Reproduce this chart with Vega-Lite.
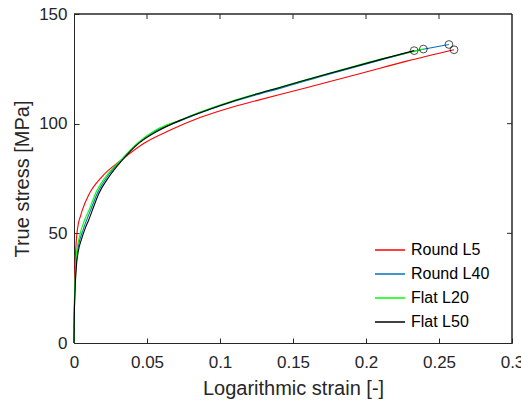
{
  "$schema": "https://vega.github.io/schema/vega-lite/v6.json",
  "width": 438,
  "height": 329,
  "autosize": "none",
  "padding": {"left": 74, "top": 14, "right": 9, "bottom": 60},
  "background": "white",
  "config": {
    "view": {"stroke": null},
    "font": "Liberation Sans",
    "axis": {
      "grid": false,
      "domainColor": "#262626",
      "tickColor": "#262626",
      "labelColor": "#262626",
      "titleColor": "#262626",
      "labelFont": "Liberation Sans",
      "titleFont": "Liberation Sans",
      "labelFontSize": 17,
      "titleFontSize": 20,
      "titleFontWeight": "normal",
      "tickSize": -5,
      "domainWidth": 1,
      "tickWidth": 1
    }
  },
  "datasets": {
    "curves": [
      {"series": "Round L5", "strain": 0, "stress": 0},
      {"series": "Round L5", "strain": 0.0002, "stress": 15},
      {"series": "Round L5", "strain": 0.0005, "stress": 28},
      {"series": "Round L5", "strain": 0.001, "stress": 40},
      {"series": "Round L5", "strain": 0.0015, "stress": 46},
      {"series": "Round L5", "strain": 0.002, "stress": 50},
      {"series": "Round L5", "strain": 0.003, "stress": 54.5},
      {"series": "Round L5", "strain": 0.0045, "stress": 58},
      {"series": "Round L5", "strain": 0.0057, "stress": 60.6},
      {"series": "Round L5", "strain": 0.0103, "stress": 67.8},
      {"series": "Round L5", "strain": 0.0194, "stress": 76},
      {"series": "Round L5", "strain": 0.0331, "stress": 83.8},
      {"series": "Round L5", "strain": 0.048, "stress": 91.1},
      {"series": "Round L5", "strain": 0.066, "stress": 97.1},
      {"series": "Round L5", "strain": 0.0863, "stress": 102.8},
      {"series": "Round L5", "strain": 0.107, "stress": 107.3},
      {"series": "Round L5", "strain": 0.125, "stress": 110.5},
      {"series": "Round L5", "strain": 0.141, "stress": 113.3},
      {"series": "Round L5", "strain": 0.1753, "stress": 119.2},
      {"series": "Round L5", "strain": 0.2096, "stress": 125.3},
      {"series": "Round L5", "strain": 0.2279, "stress": 128.5},
      {"series": "Round L5", "strain": 0.2603, "stress": 133.7},
      {"series": "Round L40", "strain": 0, "stress": 0},
      {"series": "Round L40", "strain": 0.0002, "stress": 12.5},
      {"series": "Round L40", "strain": 0.0005, "stress": 21.5},
      {"series": "Round L40", "strain": 0.001, "stress": 30.5},
      {"series": "Round L40", "strain": 0.0016, "stress": 37},
      {"series": "Round L40", "strain": 0.003, "stress": 44},
      {"series": "Round L40", "strain": 0.0062, "stress": 51.5},
      {"series": "Round L40", "strain": 0.0114, "stress": 60.6},
      {"series": "Round L40", "strain": 0.016, "stress": 68.3},
      {"series": "Round L40", "strain": 0.0228, "stress": 75.8},
      {"series": "Round L40", "strain": 0.0325, "stress": 83.4},
      {"series": "Round L40", "strain": 0.044, "stress": 91.1},
      {"series": "Round L40", "strain": 0.0565, "stress": 96.9},
      {"series": "Round L40", "strain": 0.0726, "stress": 101.2},
      {"series": "Round L40", "strain": 0.0863, "stress": 104.9},
      {"series": "Round L40", "strain": 0.1068, "stress": 109.6},
      {"series": "Round L40", "strain": 0.125, "stress": 113.2},
      {"series": "Round L40", "strain": 0.141, "stress": 116.1},
      {"series": "Round L40", "strain": 0.1753, "stress": 122.7},
      {"series": "Round L40", "strain": 0.2096, "stress": 128.9},
      {"series": "Round L40", "strain": 0.233, "stress": 133},
      {"series": "Round L40", "strain": 0.2568, "stress": 136.1},
      {"series": "Flat L20", "strain": 0, "stress": 0},
      {"series": "Flat L20", "strain": 0.0002, "stress": 13},
      {"series": "Flat L20", "strain": 0.0005, "stress": 23},
      {"series": "Flat L20", "strain": 0.001, "stress": 33},
      {"series": "Flat L20", "strain": 0.0016, "stress": 40},
      {"series": "Flat L20", "strain": 0.0039, "stress": 49},
      {"series": "Flat L20", "strain": 0.0068, "stress": 55.3},
      {"series": "Flat L20", "strain": 0.0103, "stress": 60.6},
      {"series": "Flat L20", "strain": 0.0148, "stress": 68.3},
      {"series": "Flat L20", "strain": 0.0217, "stress": 75.8},
      {"series": "Flat L20", "strain": 0.032, "stress": 83.4},
      {"series": "Flat L20", "strain": 0.0434, "stress": 91.1},
      {"series": "Flat L20", "strain": 0.056, "stress": 97.1},
      {"series": "Flat L20", "strain": 0.0726, "stress": 101.6},
      {"series": "Flat L20", "strain": 0.0863, "stress": 105.3},
      {"series": "Flat L20", "strain": 0.1068, "stress": 110},
      {"series": "Flat L20", "strain": 0.125, "stress": 113.6},
      {"series": "Flat L20", "strain": 0.141, "stress": 116.6},
      {"series": "Flat L20", "strain": 0.1753, "stress": 123.1},
      {"series": "Flat L20", "strain": 0.2096, "stress": 129.3},
      {"series": "Flat L20", "strain": 0.2393, "stress": 134},
      {"series": "Flat L50", "strain": 0, "stress": 0},
      {"series": "Flat L50", "strain": 0.0002, "stress": 12},
      {"series": "Flat L50", "strain": 0.0005, "stress": 20},
      {"series": "Flat L50", "strain": 0.001, "stress": 28},
      {"series": "Flat L50", "strain": 0.0016, "stress": 34.8},
      {"series": "Flat L50", "strain": 0.003, "stress": 42},
      {"series": "Flat L50", "strain": 0.005, "stress": 47},
      {"series": "Flat L50", "strain": 0.0078, "stress": 52.5},
      {"series": "Flat L50", "strain": 0.01, "stress": 56},
      {"series": "Flat L50", "strain": 0.0126, "stress": 60.6},
      {"series": "Flat L50", "strain": 0.0171, "stress": 68.3},
      {"series": "Flat L50", "strain": 0.024, "stress": 75.8},
      {"series": "Flat L50", "strain": 0.0331, "stress": 83.4},
      {"series": "Flat L50", "strain": 0.0445, "stress": 91.1},
      {"series": "Flat L50", "strain": 0.057, "stress": 96.5},
      {"series": "Flat L50", "strain": 0.0726, "stress": 101.5},
      {"series": "Flat L50", "strain": 0.0863, "stress": 105},
      {"series": "Flat L50", "strain": 0.1068, "stress": 109.8},
      {"series": "Flat L50", "strain": 0.125, "stress": 113.5},
      {"series": "Flat L50", "strain": 0.141, "stress": 116.5},
      {"series": "Flat L50", "strain": 0.1753, "stress": 123},
      {"series": "Flat L50", "strain": 0.2096, "stress": 129.2},
      {"series": "Flat L50", "strain": 0.233, "stress": 133.3}
    ],
    "ends": [
      {"series": "Round L5", "strain": 0.2603, "stress": 133.7},
      {"series": "Round L40", "strain": 0.2568, "stress": 136.1},
      {"series": "Flat L20", "strain": 0.2393, "stress": 134},
      {"series": "Flat L50", "strain": 0.233, "stress": 133.3}
    ],
    "frame": [
      {"edge": "top", "x0": 0, "x1": 0.3, "y0": 150, "y1": 150},
      {"edge": "right", "x0": 0.3, "x1": 0.3, "y0": 0, "y1": 150}
    ],
    "xticks": [{"v": 0.05}, {"v": 0.1}, {"v": 0.15}, {"v": 0.2}, {"v": 0.25}],
    "yticks": [{"v": 50}, {"v": 100}]
  },
  "layer": [
    {
      "data": {"name": "frame"},
      "mark": {"type": "rule", "color": "#262626", "strokeWidth": 1.5},
      "encoding": {
        "x": {"field": "x0", "type": "quantitative", "scale": {"domain": [0, 0.3], "nice": false}},
        "x2": {"field": "x1"},
        "y": {"field": "y0", "type": "quantitative", "scale": {"domain": [0, 150], "nice": false}},
        "y2": {"field": "y1"}
      }
    },
    {
      "data": {"name": "curves"},
      "mark": {"type": "line", "strokeWidth": 1.1, "interpolate": "monotone"},
      "encoding": {
        "x": {
          "field": "strain", "type": "quantitative",
          "scale": {"domain": [0, 0.3], "nice": false},
          "axis": {"orient": "bottom", "values": [0, 0.05, 0.1, 0.15, 0.2, 0.25, 0.3], "format": "~g", "labelPadding": 16.5, "title": "Logarithmic strain [-]", "titlePadding": 8, "labelFlush": false}
        },
        "y": {
          "field": "stress", "type": "quantitative",
          "scale": {"domain": [0, 150], "nice": false},
          "axis": {"orient": "left", "values": [0, 50, 100, 150], "labelPadding": 12, "title": "True stress [MPa]", "titlePadding": 6, "labelFlush": false}
        },
        "color": {
          "field": "series", "type": "nominal",
          "scale": {"domain": ["Round L5", "Round L40", "Flat L20", "Flat L50"], "range": ["#FF0000", "#0072BD", "#00FF00", "#000000"]},
          "legend": {
            "title": null, "orient": "none", "legendX": 300, "legendY": 220,
            "symbolType": "stroke", "symbolSize": 900, "symbolStrokeWidth": 1.5,
            "labelFont": "Liberation Sans", "labelFontSize": 16, "labelColor": "#000000",
            "labelOffset": 5, "rowPadding": -8.5, "padding": 0
          }
        }
      }
    },
    {
      "data": {"name": "ends"},
      "mark": {"type": "point", "filled": false, "color": "#000000", "size": 60, "strokeWidth": 1},
      "encoding": {
        "x": {"field": "strain", "type": "quantitative"},
        "y": {"field": "stress", "type": "quantitative"}
      }
    },
    {
      "data": {"name": "xticks"},
      "mark": {"type": "rule", "color": "#262626", "strokeWidth": 1},
      "encoding": {"x": {"field": "v", "type": "quantitative"}, "y": {"datum": 150}, "y2": {"datum": 147.7}}
    },
    {
      "data": {"name": "yticks"},
      "mark": {"type": "rule", "color": "#262626", "strokeWidth": 1},
      "encoding": {"y": {"field": "v", "type": "quantitative"}, "x": {"datum": 0.3}, "x2": {"datum": 0.2966}}
    }
  ]
}
